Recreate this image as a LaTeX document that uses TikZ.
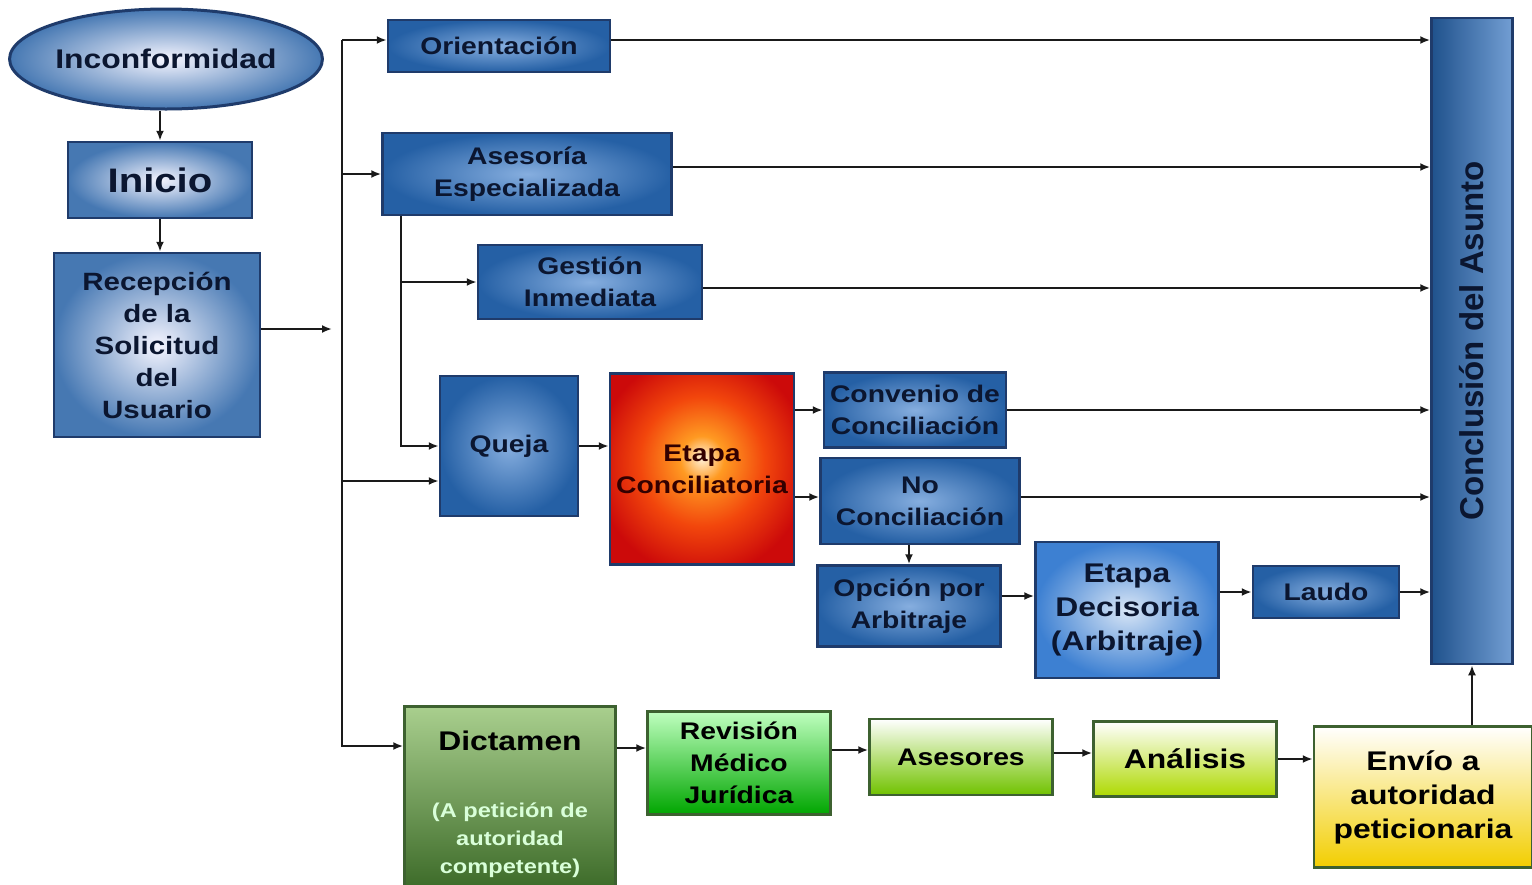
\documentclass[tikz,border=0pt]{standalone}
\usepackage{fontspec}
\setmainfont{Liberation Sans}[FakeStretch=1.18]
\newfontfamily\rectafont{Liberation Sans}
\usetikzlibrary{positioning}
\usetikzlibrary{arrows.meta}
\usetikzlibrary{shapes.geometric}

\definecolor{bordeazul}{HTML}{1F3B6B}
\definecolor{textoazul}{HTML}{0B1630}
\definecolor{azulfuera}{HTML}{2560A5}
\definecolor{azuldentro}{HTML}{86AEDF}
\definecolor{azulvivo}{HTML}{3D80D2}
\definecolor{bordeverde}{HTML}{3D6130}
\definecolor{verdeosc}{HTML}{3C6A28}
\definecolor{verdeclaro}{HTML}{A9CF8E}
\definecolor{flechagris}{HTML}{1A1A1A}
\definecolor{rojoA}{HTML}{FFF3DC}
\definecolor{rojoB}{HTML}{FF9A22}
\definecolor{rojoC}{HTML}{F2460C}
\definecolor{rojoD}{HTML}{CC0A0A}
\pgfdeclareradialshading{brillorojo}{\pgfpoint{0bp}{3bp}}{color(0bp)=(rojoA); color(6bp)=(rojoB); color(17bp)=(rojoC); color(29bp)=(rojoD); color(50bp)=(rojoD)}

\tikzset{
  caja/.style={draw=bordeazul, line width=2.5pt, inner sep=0pt, align=center, text=textoazul,
    font=\bfseries\fontsize{24}{32}\selectfont},
  azul/.style={caja, inner color=azuldentro, outer color=azulfuera},
  azulclaro/.style={caja, inner color=blue!4!white, outer color=azulfuera!85!white},
  verde/.style={caja, draw=bordeverde, text=black},
  flecha/.style={-{Latex[length=10pt,width=8pt]}, line width=2.4pt, draw=flechagris},
}

\begin{document}
\begin{tikzpicture}[x=1pt, y=-1pt]
\clip (0,0) rectangle (1532,884);
\fill[white] (0,0) rectangle (1532,884);

\node[azulclaro, ellipse, line width=3pt, minimum width=306pt, minimum height=100pt,
  font=\bfseries\fontsize{27}{32}\selectfont] (inconf) at (166,59) {Inconformidad};
\node[azulclaro, minimum width=184pt, minimum height=76pt,
  font=\bfseries\fontsize{34}{40}\selectfont] (inicio) at (160,180) {Inicio};
\node[azulclaro, minimum width=206pt, minimum height=184pt,
  font=\bfseries\fontsize{25}{32}\selectfont] (recep) at (157,345) {Recepción\\de la\\Solicitud\\del\\Usuario};

\node[azul, minimum width=222pt, minimum height=52pt] (orient) at (499,46) {Orientación};
\node[azul, minimum width=289pt, minimum height=82pt] (asesoria) at (527,174) {Asesoría\\Especializada};
\node[azul, minimum width=224pt, minimum height=74pt] (gestion) at (590,282) {Gestión\\Inmediata};
\node[azul, minimum width=138pt, minimum height=140pt] (queja) at (509,446) {Queja};
\node[caja, shading=brillorojo, text=black!80!red, minimum width=184pt, minimum height=191pt] (etapa) at (702,469) {Etapa\\Conciliatoria};
\node[azul, minimum width=182pt, minimum height=75pt] (convenio) at (915,410) {Convenio de\\Conciliación};
\node[azul, minimum width=199pt, minimum height=86pt] (noconc) at (920,501) {No\\Conciliación};
\node[azul, minimum width=183pt, minimum height=81pt] (opcion) at (909,606) {Opción por\\Arbitraje};
\node[caja, inner color=azulvivo!20!white, outer color=azulvivo, minimum width=183pt, minimum height=136pt,
  font=\bfseries\fontsize{27}{34}\selectfont] (decisoria) at (1127,610) {Etapa\\Decisoria\\(Arbitraje)};
\node[azul, minimum width=146pt, minimum height=52pt] (laudo) at (1326,592) {Laudo};
\node[caja, rotate=90, left color=azulfuera!85!black, right color=azuldentro!80!azulfuera,
  minimum width=646pt, minimum height=81pt] (concl) at (1472,341)
  {\rectafont\bfseries\fontsize{33}{40}\selectfont Conclusión del Asunto};

\node[verde, top color=verdeclaro, middle color=verdeclaro!60!verdeosc, bottom color=verdeosc, minimum width=211pt, minimum height=183pt] (dictamen) at (510,798) {};
\node[font=\bfseries\fontsize{27}{32}\selectfont] (dicttit) at (510,741) {Dictamen};
\node[align=center, text=green!15!white, font=\bfseries\fontsize{20}{28}\selectfont] (dictnota) at (510,840) {(A petición de\\autoridad\\competente)};
\node[verde, top color=green!25!white, bottom color=green!65!black, minimum width=183pt, minimum height=103pt] (revision) at (739,763) {Revisión\\Médico\\Jurídica};
\node[verde, top color=white, bottom color=olive!60!green!80!white, minimum width=183pt, minimum height=76pt] (asesores) at (961,757) {Asesores};
\node[verde, top color=white, bottom color=yellow!80!green!85!black, minimum width=183pt, minimum height=75pt,
  font=\bfseries\fontsize{27}{32}\selectfont] (analisis) at (1185,759) {Análisis};
\node[verde, top color=white, bottom color=orange!30!yellow!95!black, minimum width=218pt, minimum height=141pt,
  font=\bfseries\fontsize{27}{34}\selectfont] (envio) at (1423,797) {Envío a\\autoridad\\peticionaria};

\coordinate (bustop) at (342,40);
\coordinate (busbot) at (342,746);
\coordinate (subbus) at (401,446);
\coordinate (recfin) at (332,329);

\draw[flecha] (inicio.north |- inconf.south) -- (inicio.north);
\draw[flecha] (inicio.south) -- (recep.north -| inicio.south);
\draw[flecha] (recfin -| recep.east) -- (recfin);

\draw[flecha] (bustop) |- (dictamen.west |- busbot);
\draw[flecha] (bustop) -- (orient.west |- bustop);
\draw[flecha] (bustop |- asesoria.west) -- (asesoria.west);
\draw[flecha] ([yshift=-35pt]queja.west -| bustop) -- ([yshift=-35pt]queja.west);
\draw[flecha] (asesoria.south -| subbus) |- (queja.west);
\draw[flecha] (subbus |- gestion.west) -- (gestion.west);

\draw[flecha] ([yshift=6pt]orient.east) -- ([yshift=6pt]orient.east -| concl.north);
\draw[flecha] ([yshift=7pt]asesoria.east) -- ([yshift=7pt]asesoria.east -| concl.north);
\draw[flecha] ([yshift=-6pt]gestion.east) -- ([yshift=-6pt]gestion.east -| concl.north);
\draw[flecha] (convenio.east) -- (convenio.east -| concl.north);
\draw[flecha] ([yshift=4pt]noconc.east) -- ([yshift=4pt]noconc.east -| concl.north);
\draw[flecha] (laudo.east) -- (laudo.east -| concl.north);

\draw[flecha] (queja.east) -- (etapa.west |- queja.east);
\draw[flecha] (etapa.east |- convenio.west) -- (convenio.west);
\draw[flecha] ([yshift=4pt]noconc.west -| etapa.east) -- ([yshift=4pt]noconc.west);
\draw[flecha] (opcion.north |- noconc.south) -- (opcion.north);
\draw[flecha] ([yshift=10pt]opcion.east) -- ([yshift=10pt]opcion.east -| decisoria.west);
\draw[flecha] (decisoria.east |- laudo.west) -- (laudo.west);

\draw[flecha] ([yshift=15pt]revision.west -| dictamen.east) -- ([yshift=15pt]revision.west);
\draw[flecha] ([yshift=7pt]asesores.west -| revision.east) -- ([yshift=7pt]asesores.west);
\draw[flecha] ([yshift=6pt]analisis.west -| asesores.east) -- ([yshift=6pt]analisis.west);
\draw[flecha] (analisis.east) -- (envio.west |- analisis.east);
\draw[flecha] (concl.west |- envio.north) -- (concl.west);
\end{tikzpicture}
\end{document}
